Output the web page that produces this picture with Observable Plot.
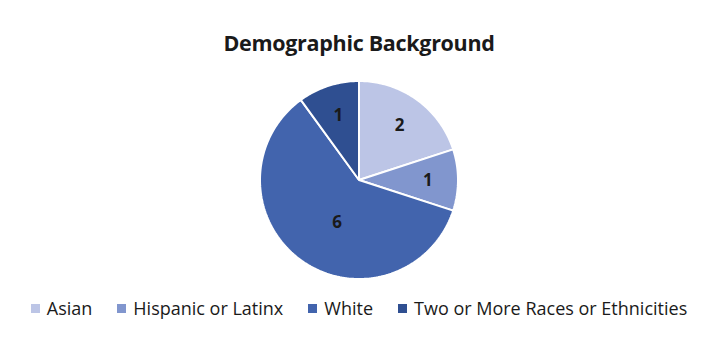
<!DOCTYPE html>
<html><head><meta charset="utf-8">
<script src="https://cdn.jsdelivr.net/npm/d3@7"></script>
<script src="https://cdn.jsdelivr.net/npm/@observablehq/plot@0.6"></script>
<style>
html,body{margin:0;padding:0;background:#fff;}
#wrap{position:relative;width:718px;height:360px;font-family:"Open Sans","Noto Sans",sans-serif;}
#title{position:absolute;left:0;width:718px;top:28px;text-align:center;font-weight:700;font-size:21.5px;color:#1a1a1a;letter-spacing:-0.3px;}
#legend{position:absolute;left:0;width:718px;top:296px;display:flex;justify-content:center;gap:25px;font-size:18px;color:#1a1a1a;letter-spacing:0px;}
#legend .item{display:flex;align-items:center;gap:7px;}
#legend .sw{width:9px;height:9px;display:inline-block;}
#chart{position:absolute;left:0;top:0;}
</style></head><body>
<div id="wrap">
<div id="chart"></div>
<div id="title">Demographic Background</div>
<div id="legend"></div>
</div>
<script>
const categories = ["Asian", "Hispanic or Latinx", "White", "Two or More Races or Ethnicities"];
const values = [2, 1, 6, 1];
const colors = ["#bcc5e6", "#8196ce", "#4264ad", "#2f4f91"];

const W = 718, H = 360, R = 99, CX = 359, CY = 180;
const pie = d3.pie().sort(null).value(d => d.value)(categories.map((c, i) => ({category: c, value: values[i]})));

// wedge outlines in unit-radius data coordinates
const wedges = [];
for (const p of pie) {
  const n = Math.max(2, Math.ceil((p.endAngle - p.startAngle) / (Math.PI / 180)));
  for (let k = 0; k <= n; k++) {
    const a = p.startAngle + (p.endAngle - p.startAngle) * k / n;
    wedges.push({category: p.data.category, x: Math.sin(a), y: Math.cos(a)});
  }
}
const labels = pie.map(p => {
  const big = p.data.value >= 5;
  const a = (p.startAngle + p.endAngle) / 2 - (big ? 0.14 : 0);
  const r = big ? 0.48 : 0.69;
  return {category: p.data.category, value: p.data.value, x: r * Math.sin(a), y: r * Math.cos(a)};
});

const chart = Plot.plot({
  width: W, height: H,
  margin: 0,
  x: {domain: [-CX / R, (W - CX) / R], axis: null},
  y: {domain: [-(H - CY) / R, CY / R], axis: null},
  color: {domain: categories, range: colors},
  marks: [
    Plot.area(wedges, {x1: 0, y1: 0, x2: "x", y2: "y", z: "category", fill: "category", stroke: "white", strokeWidth: 2, strokeLinejoin: "miter"}),
    Plot.text(labels, {x: "x", y: "y", text: d => String(d.value), fill: "#1a1a1a", fontSize: 17, fontWeight: 700, fontFamily: "Open Sans, Noto Sans, sans-serif"})
  ]
});
document.getElementById("chart").appendChild(chart);

const leg = document.getElementById("legend");
categories.forEach((c, i) => {
  const it = document.createElement("div");
  it.className = "item";
  it.innerHTML = `<span class="sw" style="background:${colors[i]}"></span><span>${c}</span>`;
  leg.appendChild(it);
});
</script>
</body></html>
